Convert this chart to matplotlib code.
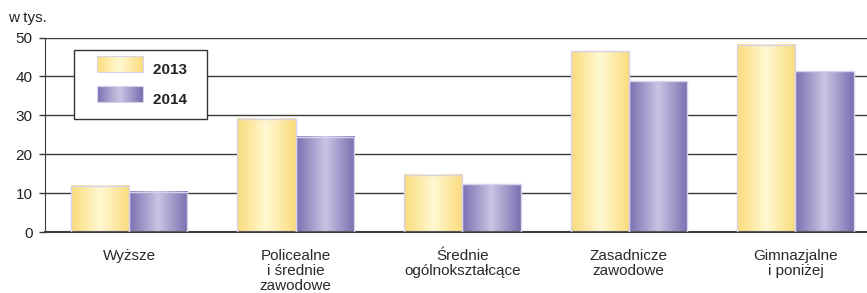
import matplotlib.pyplot as plt
import numpy as np
from matplotlib.colors import LinearSegmentedColormap
from matplotlib.patches import Rectangle
from matplotlib.legend_handler import HandlerBase

plt.rcParams['font.family'] = ['Liberation Sans', 'DejaVu Sans']

categories = ['Wyższe', 'Policealne\ni średnie\nzawodowe', 'Średnie\nogólnokształcące',
              'Zasadnicze\nzawodowe', 'Gimnazjalne\ni poniżej']
v2013 = [11.9, 29.1, 14.7, 46.5, 48.1]
v2014 = [10.4, 24.5, 12.3, 38.7, 41.3]
years = ['2013  ', '2014  ']

yellow = LinearSegmentedColormap.from_list('y', ['#fbdc7c', '#fff8d2', '#fbdc7c'])
purple = LinearSegmentedColormap.from_list('p', ['#7a70b2', '#c9c5e3', '#7a70b2'])
edge = '#d6d2ec'


class GradHandler(HandlerBase):
    def __init__(self, cmap, indent):
        super().__init__()
        self.cmap = cmap
        self.indent = indent

    def create_artists(self, legend, orig, xd, yd, w, h, fs, trans):
        n = 30
        x0 = xd + self.indent
        ww = w - self.indent
        arts = []
        for i in range(n):
            r = Rectangle((x0 + ww * i / n, yd), ww / n + 0.3, h,
                          facecolor=self.cmap((i + 0.5) / n), edgecolor='none', transform=trans)
            arts.append(r)
        arts.append(Rectangle((x0, yd), ww, h, facecolor='none',
                              edgecolor=edge, lw=0.8, transform=trans))
        return arts


fig = plt.figure(figsize=(8.67, 2.93), dpi=100)
ax = fig.add_axes([45 / 867, 1 - 232 / 293, 1 - 45 / 867, (232 - 37.5) / 293])

x = np.arange(len(categories))
w = 0.35
b1 = ax.bar(x - w / 2, v2013, w, facecolor='none', edgecolor=edge, lw=1, zorder=3)
b2 = ax.bar(x + w / 2, v2014, w, facecolor='none', edgecolor=edge, lw=1, zorder=3)

grad = np.linspace(0, 1, 100).reshape(1, -1)
for bars, cm in ((b1, yellow), (b2, purple)):
    for p in bars:
        x0, y0 = p.get_x(), p.get_y()
        ax.imshow(grad, cmap=cm, aspect='auto', zorder=2,
                  extent=(x0, x0 + p.get_width(), y0, y0 + p.get_height()))

ax.set_xlim(-0.505, 4.43)
ax.set_ylim(0, 50)
ax.set_yticks(range(0, 51, 10))
ax.yaxis.grid(True, color='#3a3a3a', lw=1)
ax.set_axisbelow(True)
ax.set_xticks(x)
ax.set_xticklabels(categories, fontsize=11, color='#2a2a2a', linespacing=1.12)
ax.tick_params(axis='x', length=0, pad=12)
ax.tick_params(axis='y', length=4, width=1, color='#3a3a3a', labelsize=11, pad=5,
               labelcolor='#222222')
for s in ['top', 'right']:
    ax.spines[s].set_visible(False)
ax.spines['left'].set_color('#3a3a3a')
ax.spines['bottom'].set_color('#3a3a3a')
ax.spines['bottom'].set_linewidth(1.5)

fs = 11
px = fs * 100 / 72
leg = ax.legend([b1, b2], years, loc='upper left', bbox_to_anchor=(0.0353, 0.936),
                handler_map={b1: GradHandler(yellow, 8), b2: GradHandler(purple, 8)},
                prop={'weight': 'bold', 'size': fs}, handlelength=57 / px, handleheight=18 / px,
                handletextpad=10.4 / px, labelspacing=14 / px, borderpad=11.5 / px,
                borderaxespad=0, fancybox=False, frameon=True)
leg.get_frame().set_edgecolor('#333333')
leg.get_frame().set_linewidth(1)
leg.get_frame().set_alpha(1)
leg.set_zorder(5)
for t in leg.get_texts():
    t.set_color('#222222')

fig.text(8 / 867, 1 - 18 / 293, 'w tys.', fontsize=11, va='center', color='#222222')

fig.savefig('out.png', dpi=100)
